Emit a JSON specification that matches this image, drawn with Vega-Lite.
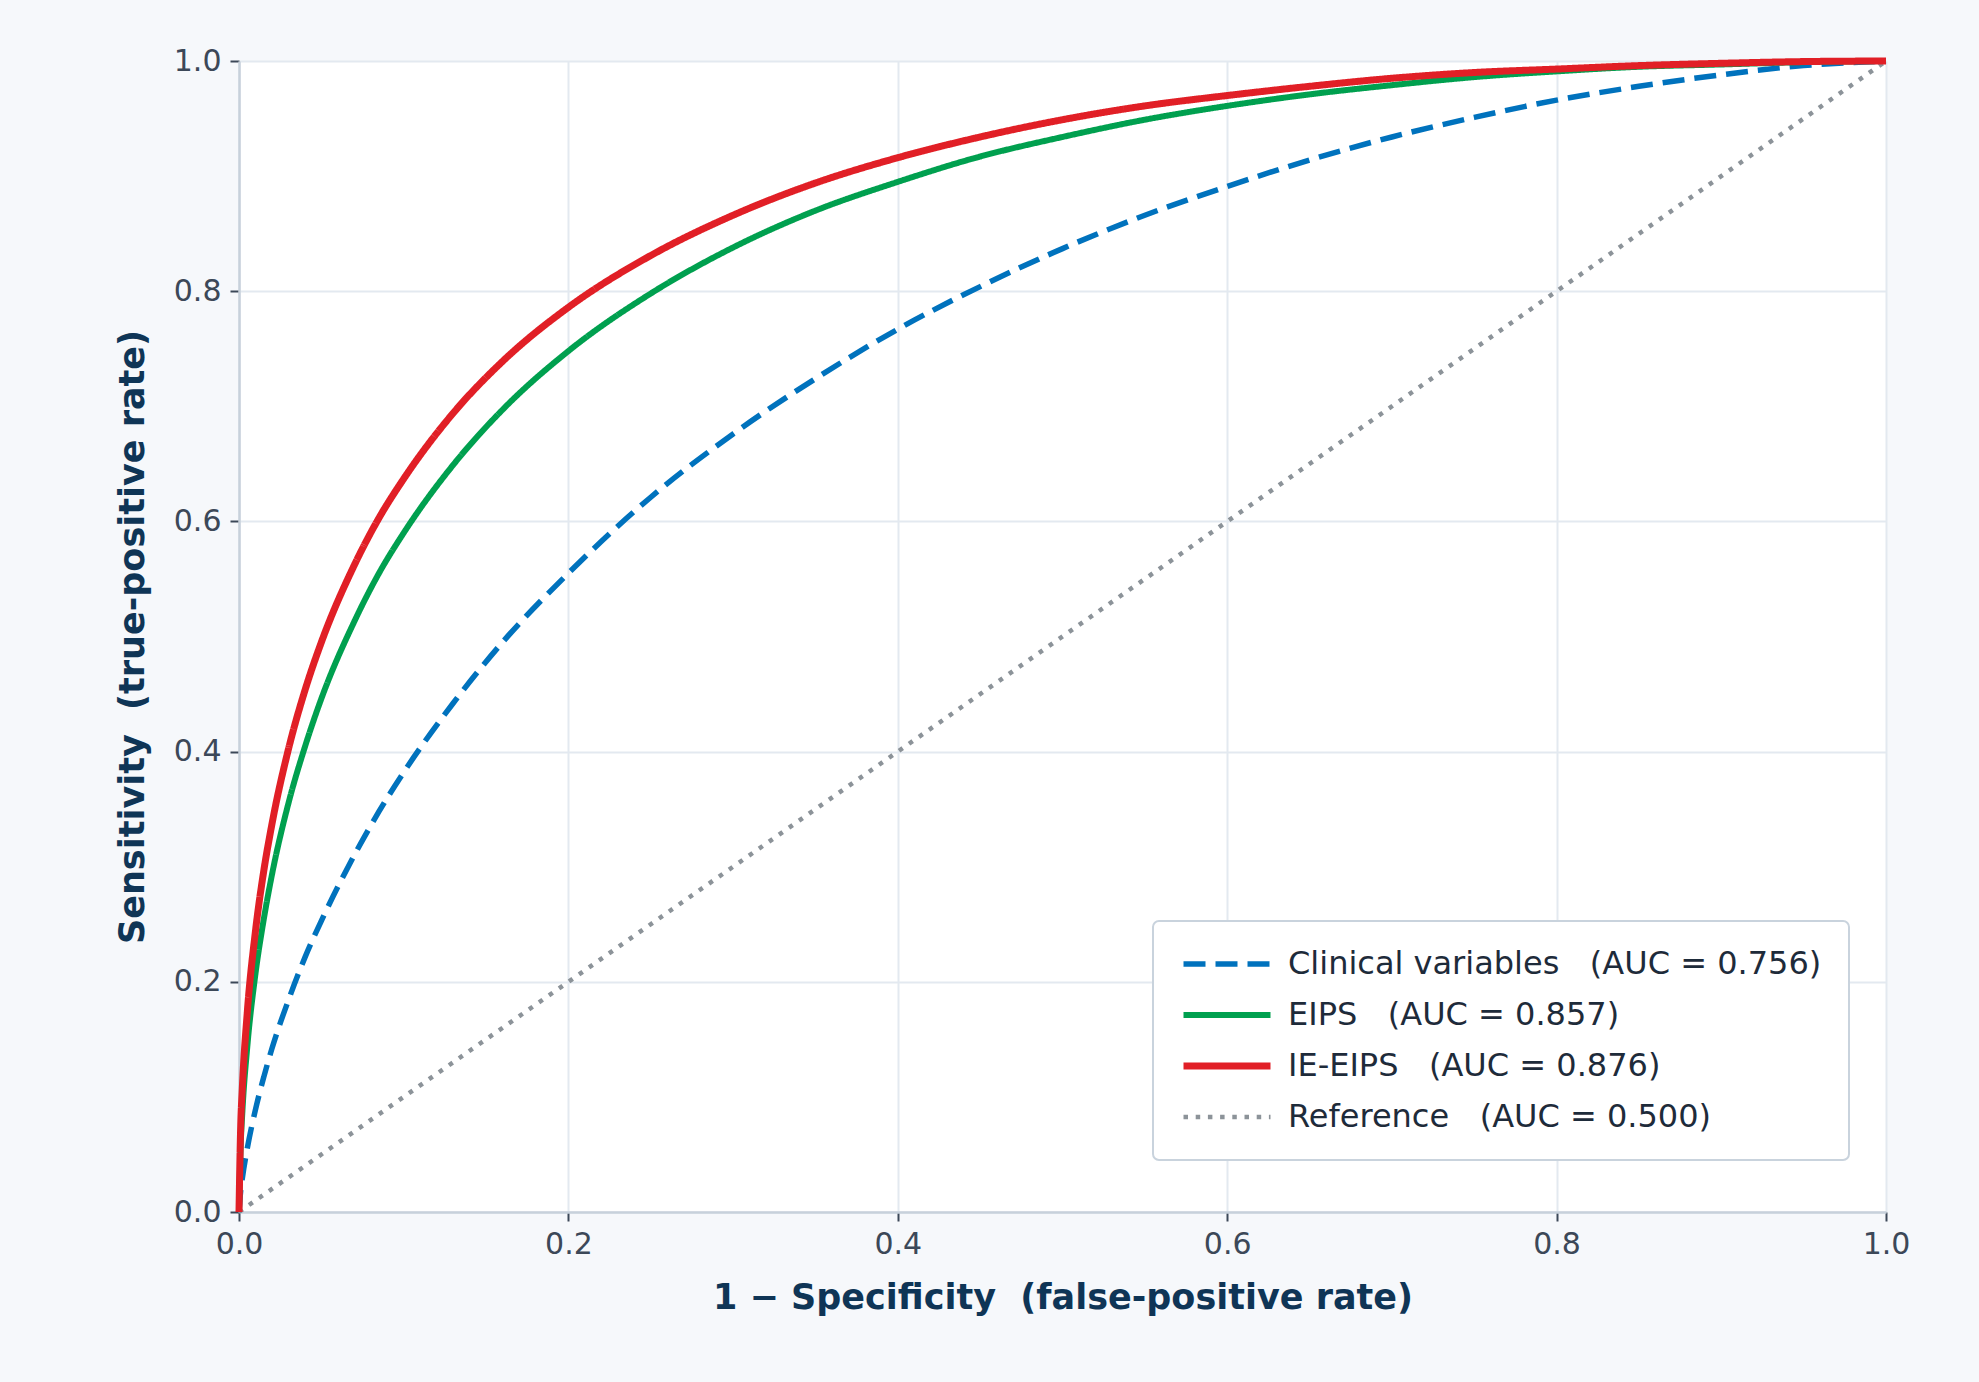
{
  "$schema": "https://vega.github.io/schema/vega-lite/v6.json",
  "width": 1647,
  "height": 1151,
  "autosize": {"type": "none"},
  "padding": {"left": 239, "top": 61, "right": 93, "bottom": 170},
  "background": "#f6f8fb",
  "config": {
    "font": "DejaVu Sans",
    "view": {"fill": "#ffffff", "stroke": null},
    "axis": {
      "labelFontSize": 30,
      "labelColor": "#3c4858",
      "tickSize": 9,
      "tickWidth": 2,
      "tickColor": "#3c4858",
      "domainColor": "#c7d1db",
      "domainWidth": 2.5,
      "gridColor": "#e3e9f0",
      "gridWidth": 2,
      "titleFontSize": 35,
      "titleFontWeight": "bold",
      "titleColor": "#0f3556",
      "labelFlush": false
    }
  },
  "data": {
    "values": [
      {"model": "Reference\u00a0\u00a0\u00a0(AUC = 0.500)", "fpr": 0, "tpr": 0},
      {"model": "Reference\u00a0\u00a0\u00a0(AUC = 0.500)", "fpr": 1, "tpr": 1},

      {"model": "Clinical variables\u00a0\u00a0\u00a0(AUC = 0.756)", "fpr": 0, "tpr": 0},
      {"model": "Clinical variables\u00a0\u00a0\u00a0(AUC = 0.756)", "fpr": 0.001, "tpr": 0.018},
      {"model": "Clinical variables\u00a0\u00a0\u00a0(AUC = 0.756)", "fpr": 0.002, "tpr": 0.029},
      {"model": "Clinical variables\u00a0\u00a0\u00a0(AUC = 0.756)", "fpr": 0.005, "tpr": 0.055},
      {"model": "Clinical variables\u00a0\u00a0\u00a0(AUC = 0.756)", "fpr": 0.01, "tpr": 0.089},
      {"model": "Clinical variables\u00a0\u00a0\u00a0(AUC = 0.756)", "fpr": 0.015, "tpr": 0.117},
      {"model": "Clinical variables\u00a0\u00a0\u00a0(AUC = 0.756)", "fpr": 0.02, "tpr": 0.142},
      {"model": "Clinical variables\u00a0\u00a0\u00a0(AUC = 0.756)", "fpr": 0.03, "tpr": 0.184},
      {"model": "Clinical variables\u00a0\u00a0\u00a0(AUC = 0.756)", "fpr": 0.04, "tpr": 0.221},
      {"model": "Clinical variables\u00a0\u00a0\u00a0(AUC = 0.756)", "fpr": 0.05, "tpr": 0.253},
      {"model": "Clinical variables\u00a0\u00a0\u00a0(AUC = 0.756)", "fpr": 0.07, "tpr": 0.31},
      {"model": "Clinical variables\u00a0\u00a0\u00a0(AUC = 0.756)", "fpr": 0.085, "tpr": 0.348},
      {"model": "Clinical variables\u00a0\u00a0\u00a0(AUC = 0.756)", "fpr": 0.1, "tpr": 0.382},
      {"model": "Clinical variables\u00a0\u00a0\u00a0(AUC = 0.756)", "fpr": 0.13, "tpr": 0.442},
      {"model": "Clinical variables\u00a0\u00a0\u00a0(AUC = 0.756)", "fpr": 0.16, "tpr": 0.495},
      {"model": "Clinical variables\u00a0\u00a0\u00a0(AUC = 0.756)", "fpr": 0.2, "tpr": 0.555},
      {"model": "Clinical variables\u00a0\u00a0\u00a0(AUC = 0.756)", "fpr": 0.25, "tpr": 0.621},
      {"model": "Clinical variables\u00a0\u00a0\u00a0(AUC = 0.756)", "fpr": 0.3, "tpr": 0.676},
      {"model": "Clinical variables\u00a0\u00a0\u00a0(AUC = 0.756)", "fpr": 0.35, "tpr": 0.724},
      {"model": "Clinical variables\u00a0\u00a0\u00a0(AUC = 0.756)", "fpr": 0.4, "tpr": 0.767},
      {"model": "Clinical variables\u00a0\u00a0\u00a0(AUC = 0.756)", "fpr": 0.45, "tpr": 0.804},
      {"model": "Clinical variables\u00a0\u00a0\u00a0(AUC = 0.756)", "fpr": 0.5, "tpr": 0.837},
      {"model": "Clinical variables\u00a0\u00a0\u00a0(AUC = 0.756)", "fpr": 0.55, "tpr": 0.866},
      {"model": "Clinical variables\u00a0\u00a0\u00a0(AUC = 0.756)", "fpr": 0.6, "tpr": 0.891},
      {"model": "Clinical variables\u00a0\u00a0\u00a0(AUC = 0.756)", "fpr": 0.65, "tpr": 0.914},
      {"model": "Clinical variables\u00a0\u00a0\u00a0(AUC = 0.756)", "fpr": 0.7, "tpr": 0.934},
      {"model": "Clinical variables\u00a0\u00a0\u00a0(AUC = 0.756)", "fpr": 0.75, "tpr": 0.951},
      {"model": "Clinical variables\u00a0\u00a0\u00a0(AUC = 0.756)", "fpr": 0.8, "tpr": 0.966},
      {"model": "Clinical variables\u00a0\u00a0\u00a0(AUC = 0.756)", "fpr": 0.85, "tpr": 0.978},
      {"model": "Clinical variables\u00a0\u00a0\u00a0(AUC = 0.756)", "fpr": 0.9, "tpr": 0.988},
      {"model": "Clinical variables\u00a0\u00a0\u00a0(AUC = 0.756)", "fpr": 0.95, "tpr": 0.996},
      {"model": "Clinical variables\u00a0\u00a0\u00a0(AUC = 0.756)", "fpr": 1, "tpr": 1},

      {"model": "EIPS\u00a0\u00a0\u00a0(AUC = 0.857)", "fpr": 0, "tpr": 0},
      {"model": "EIPS\u00a0\u00a0\u00a0(AUC = 0.857)", "fpr": 0.001, "tpr": 0.057},
      {"model": "EIPS\u00a0\u00a0\u00a0(AUC = 0.857)", "fpr": 0.002, "tpr": 0.086},
      {"model": "EIPS\u00a0\u00a0\u00a0(AUC = 0.857)", "fpr": 0.005, "tpr": 0.143},
      {"model": "EIPS\u00a0\u00a0\u00a0(AUC = 0.857)", "fpr": 0.01, "tpr": 0.207},
      {"model": "EIPS\u00a0\u00a0\u00a0(AUC = 0.857)", "fpr": 0.015, "tpr": 0.254},
      {"model": "EIPS\u00a0\u00a0\u00a0(AUC = 0.857)", "fpr": 0.02, "tpr": 0.293},
      {"model": "EIPS\u00a0\u00a0\u00a0(AUC = 0.857)", "fpr": 0.03, "tpr": 0.355},
      {"model": "EIPS\u00a0\u00a0\u00a0(AUC = 0.857)", "fpr": 0.04, "tpr": 0.404},
      {"model": "EIPS\u00a0\u00a0\u00a0(AUC = 0.857)", "fpr": 0.05, "tpr": 0.446},
      {"model": "EIPS\u00a0\u00a0\u00a0(AUC = 0.857)", "fpr": 0.07, "tpr": 0.513},
      {"model": "EIPS\u00a0\u00a0\u00a0(AUC = 0.857)", "fpr": 0.085, "tpr": 0.555},
      {"model": "EIPS\u00a0\u00a0\u00a0(AUC = 0.857)", "fpr": 0.1, "tpr": 0.59},
      {"model": "EIPS\u00a0\u00a0\u00a0(AUC = 0.857)", "fpr": 0.13, "tpr": 0.649},
      {"model": "EIPS\u00a0\u00a0\u00a0(AUC = 0.857)", "fpr": 0.16, "tpr": 0.697},
      {"model": "EIPS\u00a0\u00a0\u00a0(AUC = 0.857)", "fpr": 0.2, "tpr": 0.748},
      {"model": "EIPS\u00a0\u00a0\u00a0(AUC = 0.857)", "fpr": 0.25, "tpr": 0.798},
      {"model": "EIPS\u00a0\u00a0\u00a0(AUC = 0.857)", "fpr": 0.3, "tpr": 0.838},
      {"model": "EIPS\u00a0\u00a0\u00a0(AUC = 0.857)", "fpr": 0.35, "tpr": 0.87},
      {"model": "EIPS\u00a0\u00a0\u00a0(AUC = 0.857)", "fpr": 0.4, "tpr": 0.895},
      {"model": "EIPS\u00a0\u00a0\u00a0(AUC = 0.857)", "fpr": 0.45, "tpr": 0.917},
      {"model": "EIPS\u00a0\u00a0\u00a0(AUC = 0.857)", "fpr": 0.5, "tpr": 0.934},
      {"model": "EIPS\u00a0\u00a0\u00a0(AUC = 0.857)", "fpr": 0.55, "tpr": 0.949},
      {"model": "EIPS\u00a0\u00a0\u00a0(AUC = 0.857)", "fpr": 0.6, "tpr": 0.961},
      {"model": "EIPS\u00a0\u00a0\u00a0(AUC = 0.857)", "fpr": 0.65, "tpr": 0.971},
      {"model": "EIPS\u00a0\u00a0\u00a0(AUC = 0.857)", "fpr": 0.7, "tpr": 0.979},
      {"model": "EIPS\u00a0\u00a0\u00a0(AUC = 0.857)", "fpr": 0.75, "tpr": 0.986},
      {"model": "EIPS\u00a0\u00a0\u00a0(AUC = 0.857)", "fpr": 0.8, "tpr": 0.991},
      {"model": "EIPS\u00a0\u00a0\u00a0(AUC = 0.857)", "fpr": 0.85, "tpr": 0.995},
      {"model": "EIPS\u00a0\u00a0\u00a0(AUC = 0.857)", "fpr": 0.9, "tpr": 0.997},
      {"model": "EIPS\u00a0\u00a0\u00a0(AUC = 0.857)", "fpr": 0.95, "tpr": 0.999},
      {"model": "EIPS\u00a0\u00a0\u00a0(AUC = 0.857)", "fpr": 1, "tpr": 1},

      {"model": "IE-EIPS\u00a0\u00a0\u00a0(AUC = 0.876)", "fpr": 0, "tpr": 0},
      {"model": "IE-EIPS\u00a0\u00a0\u00a0(AUC = 0.876)", "fpr": 0.001, "tpr": 0.073},
      {"model": "IE-EIPS\u00a0\u00a0\u00a0(AUC = 0.876)", "fpr": 0.002, "tpr": 0.107},
      {"model": "IE-EIPS\u00a0\u00a0\u00a0(AUC = 0.876)", "fpr": 0.005, "tpr": 0.173},
      {"model": "IE-EIPS\u00a0\u00a0\u00a0(AUC = 0.876)", "fpr": 0.01, "tpr": 0.244},
      {"model": "IE-EIPS\u00a0\u00a0\u00a0(AUC = 0.876)", "fpr": 0.015, "tpr": 0.296},
      {"model": "IE-EIPS\u00a0\u00a0\u00a0(AUC = 0.876)", "fpr": 0.02, "tpr": 0.337},
      {"model": "IE-EIPS\u00a0\u00a0\u00a0(AUC = 0.876)", "fpr": 0.03, "tpr": 0.402},
      {"model": "IE-EIPS\u00a0\u00a0\u00a0(AUC = 0.876)", "fpr": 0.04, "tpr": 0.453},
      {"model": "IE-EIPS\u00a0\u00a0\u00a0(AUC = 0.876)", "fpr": 0.05, "tpr": 0.495},
      {"model": "IE-EIPS\u00a0\u00a0\u00a0(AUC = 0.876)", "fpr": 0.07, "tpr": 0.562},
      {"model": "IE-EIPS\u00a0\u00a0\u00a0(AUC = 0.876)", "fpr": 0.085, "tpr": 0.603},
      {"model": "IE-EIPS\u00a0\u00a0\u00a0(AUC = 0.876)", "fpr": 0.1, "tpr": 0.637},
      {"model": "IE-EIPS\u00a0\u00a0\u00a0(AUC = 0.876)", "fpr": 0.13, "tpr": 0.694},
      {"model": "IE-EIPS\u00a0\u00a0\u00a0(AUC = 0.876)", "fpr": 0.16, "tpr": 0.739},
      {"model": "IE-EIPS\u00a0\u00a0\u00a0(AUC = 0.876)", "fpr": 0.2, "tpr": 0.786},
      {"model": "IE-EIPS\u00a0\u00a0\u00a0(AUC = 0.876)", "fpr": 0.25, "tpr": 0.831},
      {"model": "IE-EIPS\u00a0\u00a0\u00a0(AUC = 0.876)", "fpr": 0.3, "tpr": 0.866},
      {"model": "IE-EIPS\u00a0\u00a0\u00a0(AUC = 0.876)", "fpr": 0.35, "tpr": 0.894},
      {"model": "IE-EIPS\u00a0\u00a0\u00a0(AUC = 0.876)", "fpr": 0.4, "tpr": 0.916},
      {"model": "IE-EIPS\u00a0\u00a0\u00a0(AUC = 0.876)", "fpr": 0.45, "tpr": 0.934},
      {"model": "IE-EIPS\u00a0\u00a0\u00a0(AUC = 0.876)", "fpr": 0.5, "tpr": 0.949},
      {"model": "IE-EIPS\u00a0\u00a0\u00a0(AUC = 0.876)", "fpr": 0.55, "tpr": 0.961},
      {"model": "IE-EIPS\u00a0\u00a0\u00a0(AUC = 0.876)", "fpr": 0.6, "tpr": 0.97},
      {"model": "IE-EIPS\u00a0\u00a0\u00a0(AUC = 0.876)", "fpr": 0.65, "tpr": 0.978},
      {"model": "IE-EIPS\u00a0\u00a0\u00a0(AUC = 0.876)", "fpr": 0.7, "tpr": 0.985},
      {"model": "IE-EIPS\u00a0\u00a0\u00a0(AUC = 0.876)", "fpr": 0.75, "tpr": 0.99},
      {"model": "IE-EIPS\u00a0\u00a0\u00a0(AUC = 0.876)", "fpr": 0.8, "tpr": 0.993},
      {"model": "IE-EIPS\u00a0\u00a0\u00a0(AUC = 0.876)", "fpr": 0.85, "tpr": 0.996},
      {"model": "IE-EIPS\u00a0\u00a0\u00a0(AUC = 0.876)", "fpr": 0.9, "tpr": 0.998},
      {"model": "IE-EIPS\u00a0\u00a0\u00a0(AUC = 0.876)", "fpr": 0.95, "tpr": 0.9995},
      {"model": "IE-EIPS\u00a0\u00a0\u00a0(AUC = 0.876)", "fpr": 1, "tpr": 1}
    ]
  },
  "mark": {"type": "line", "interpolate": "monotone", "strokeCap": "butt"},
  "encoding": {
    "x": {
      "field": "fpr",
      "type": "quantitative",
      "scale": {"domain": [0, 1], "nice": false},
      "axis": {
        "title": "1 − Specificity\u00a0\u00a0(false-positive rate)",
        "values": [0, 0.2, 0.4, 0.6, 0.8, 1],
        "format": ".1f",
        "labelFontSize": 30,
        "labelPadding": 8,
        "titleY": 96,
        "titleBaseline": "alphabetic"
      }
    },
    "y": {
      "field": "tpr",
      "type": "quantitative",
      "scale": {"domain": [0, 1], "nice": false},
      "axis": {
        "title": "Sensitivity\u00a0\u00a0(true-positive rate)",
        "values": [0, 0.2, 0.4, 0.6, 0.8, 1],
        "format": ".1f",
        "labelFontSize": 30,
        "labelPadding": 9,
        "titleX": -96,
        "titleY": 575.5,
        "titleAlign": "center",
        "titleBaseline": "alphabetic"
      }
    },
    "color": {
      "field": "model",
      "type": "nominal",
      "scale": {
        "domain": ["Clinical variables\u00a0\u00a0\u00a0(AUC = 0.756)", "EIPS\u00a0\u00a0\u00a0(AUC = 0.857)", "IE-EIPS\u00a0\u00a0\u00a0(AUC = 0.876)", "Reference\u00a0\u00a0\u00a0(AUC = 0.500)"],
        "range": ["#0072bd", "#00a04f", "#e11f26", "#8c9399"]
      },
      "legend": {
        "title": null,
        "orient": "none",
        "legendX": 914,
        "legendY": 860,
        "symbolType": "stroke",
        "symbolSize": 7569,
        "symbolStrokeWidth": 6,
        "clipHeight": 32,
        "rowPadding": 19,
        "padding": 27,
        "labelFontSize": 32,
        "labelColor": "#1e2b3a",
        "labelOffset": 14,
        "labelLimit": 1000,
        "fillColor": "#ffffff",
        "strokeColor": "#c9d3dd",
        "cornerRadius": 6,
        "encode": {"legend": {"update": {"strokeWidth": {"value": 2}}}}
      }
    },
    "strokeDash": {
      "field": "model",
      "type": "nominal",
      "scale": {
        "domain": ["Clinical variables\u00a0\u00a0\u00a0(AUC = 0.756)", "EIPS\u00a0\u00a0\u00a0(AUC = 0.857)", "IE-EIPS\u00a0\u00a0\u00a0(AUC = 0.876)", "Reference\u00a0\u00a0\u00a0(AUC = 0.500)"],
        "range": [[22, 10], [1, 0], [1, 0], [4.5, 7.7]]
      }
    },
    "strokeWidth": {
      "field": "model",
      "type": "nominal",
      "scale": {
        "type": "ordinal",
        "domain": ["Clinical variables\u00a0\u00a0\u00a0(AUC = 0.756)", "EIPS\u00a0\u00a0\u00a0(AUC = 0.857)", "IE-EIPS\u00a0\u00a0\u00a0(AUC = 0.876)", "Reference\u00a0\u00a0\u00a0(AUC = 0.500)"],
        "range": [5.5, 6, 7, 4.5]
      }
    }
  }
}
